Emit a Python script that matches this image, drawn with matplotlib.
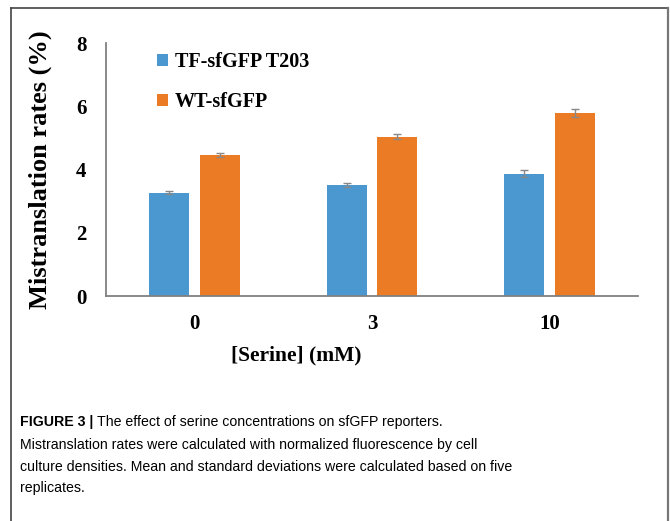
import numpy as np
import matplotlib.pyplot as plt

# data
categories = ['0', '3', '10']
series_names = ['TF-sfGFP T203', 'WT-sfGFP']
tf_vals = [3.26, 3.51, 3.87]
tf_err = [0.05, 0.07, 0.11]
wt_vals = [4.46, 5.04, 5.78]
wt_err = [0.07, 0.09, 0.12]
yticks = [0, 2, 4, 6, 8]

caption_bold = 'FIGURE 3 | '
caption_lines = [
    'The effect of serine concentrations on sfGFP reporters.',
    'Mistranslation rates were calculated with normalized fluorescence by cell',
    'culture densities. Mean and standard deviations were calculated based on five',
    'replicates.',
]

blue = '#4B97CF'
orange = '#EC7B26'
serif = 'Liberation Serif'

fig = plt.figure(figsize=(6.7, 5.21), dpi=100)
W, H = 670, 521

# outer frame of the figure panel (open at the bottom)
fig.add_artist(plt.Line2D([11 / W, 11 / W], [0, 1 - 8 / H], color='#444444', lw=1.2,
                          transform=fig.transFigure))
fig.add_artist(plt.Line2D([11 / W, 668 / W], [1 - 8 / H, 1 - 8 / H], color='#444444', lw=1.2,
                          transform=fig.transFigure))
fig.add_artist(plt.Line2D([668 / W, 668 / W], [0, 1 - 8 / H], color='#777777', lw=1.6,
                          transform=fig.transFigure))

ax = fig.add_axes([106 / W, 1 - 296 / H, 532 / W, 253 / H])
x = np.arange(len(categories))
w = 0.225
off = 0.1435
ekw = dict(ecolor='#888888', elinewidth=1.0, capsize=3, capthick=1.0)
ax.bar(x - off, tf_vals, w, yerr=tf_err, color=blue, label=series_names[0], error_kw=ekw)
ax.bar(x + off, wt_vals, w, yerr=wt_err, color=orange, label=series_names[1], error_kw=ekw)

ax.set_xlim(-0.5, 2.5)
ax.set_ylim(0, 8)
ax.set_yticks(yticks)
ax.set_xticks(x)
ax.set_xticklabels(categories)
for s in ['top', 'right']:
    ax.spines[s].set_visible(False)
for s in ['left', 'bottom']:
    ax.spines[s].set_color('#808080')
    ax.spines[s].set_linewidth(1.3)
ax.tick_params(axis='both', length=0, labelsize=15)
ax.tick_params(axis='y', pad=14)
ax.tick_params(axis='x', pad=13)
for lab in ax.get_xticklabels() + ax.get_yticklabels():
    lab.set_fontfamily(serif)
    lab.set_fontweight('bold')

ax.set_ylabel('Mistranslation rates (%)', fontfamily=serif, fontweight='bold', fontsize=19)
ax.yaxis.set_label_coords(-0.1015, 0.5)
ax.set_xlabel('[Serine] (mM)', fontfamily=serif, fontweight='bold', fontsize=15.5)
ax.xaxis.set_label_coords(0.357, -0.194)

ax.legend(loc='upper left', bbox_to_anchor=(157 / W, 1 - 52 / H), bbox_transform=fig.transFigure,
          frameon=False, prop={'family': serif, 'weight': 'bold', 'size': 14.5},
          borderpad=0, borderaxespad=0,
          handlelength=0.55, handleheight=0.55, handletextpad=0.35, labelspacing=1.0)

# caption
cap_font = 'Liberation Sans'
cap_size = 10.2
y0 = 1 - 422 / H
t1 = fig.text(20 / W, y0, caption_bold, fontfamily=cap_font, fontweight='bold', fontsize=cap_size,
              va='center', ha='left')
ax.annotate(caption_lines[0], xy=(1, 0.5), xycoords=t1, va='center', ha='left',
            fontfamily=cap_font, fontsize=cap_size, annotation_clip=False)
line_y = [445, 467, 488]
for ly, txt in zip(line_y, caption_lines[1:]):
    fig.text(20 / W, 1 - ly / H, txt, fontfamily=cap_font, fontsize=cap_size, va='center', ha='left')

fig.savefig('out.png', dpi=100)
